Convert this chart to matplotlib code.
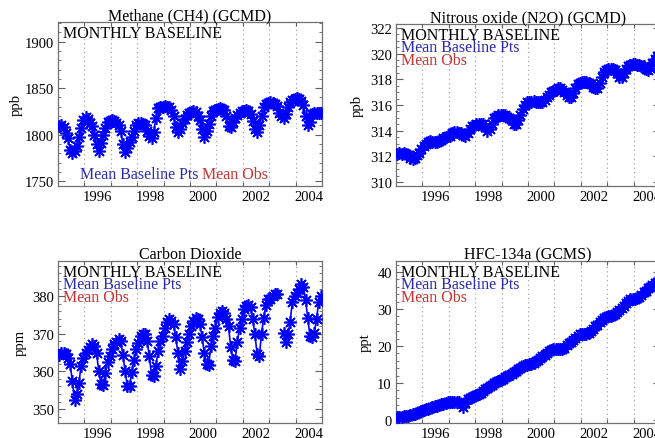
import numpy as np
import matplotlib
matplotlib.use('Agg')
import matplotlib.pyplot as plt
from matplotlib.ticker import MultipleLocator

plt.rcParams['font.family'] = ['Liberation Serif', 'DejaVu Serif']

# monthly means, first value is the month starting at 1994.5
first_month = 1994.5
n_months = 120

# Methane (ppb), one row per 12 months
ch4_ppb = [
    1809, 1811, 1808, 1802, 1796, 1784, 1780, 1783, 1788, 1798, 1807, 1816,
    1819, 1817, 1813, 1809, 1800, 1790, 1783, 1791, 1800, 1807, 1814, 1815,
    1816, 1815, 1813, 1811, 1804, 1790, 1782, 1786, 1792, 1798, 1804, 1810,
    1813, 1813, 1812, 1810, 1804, 1799, 1797, 1803, 1818, 1829, 1830, 1830,
    1831, 1830, 1830, 1827, 1820, 1808, 1803, 1806, 1813, 1817, 1821, 1823,
    1824, 1825, 1824, 1820, 1816, 1806, 1798, 1804, 1812, 1820, 1825, 1827,
    1828, 1829, 1828, 1827, 1820, 1809, 1808, 1814, 1818, 1821, 1823, 1825,
    1826, 1827, 1825, 1822, 1815, 1806, 1803, 1811, 1820, 1830, 1833, 1834,
    1835, 1834, 1833, 1831, 1823, 1820, 1818, 1822, 1830, 1835, 1837, 1838,
    1839, 1838, 1836, 1832, 1820, 1810, 1814, 1822, 1823, 1823, 1823, 1823,
]

# Nitrous oxide (ppb)
n2o_ppb = [
    312.2, 312.3, 312.2, 312.3, 312.2, 312.1, 311.9, 311.8, 311.9, 312.1, 312.3, 312.6,
    312.8, 313.0, 313.1, 313.2, 313.1, 313.1, 313.1, 313.2, 313.3, 313.4, 313.5, 313.6,
    313.6, 313.8, 313.9, 313.9, 313.8, 313.8, 313.7, 313.6, 313.8, 314.1, 314.4, 314.4,
    314.5, 314.5, 314.5, 314.5, 314.3, 314.0, 314.1, 314.5, 315.0, 315.1, 315.2, 315.2,
    315.2, 315.2, 315.1, 315.0, 314.8, 314.5, 314.5, 314.8, 315.2, 315.7, 316.0, 316.2,
    316.2, 316.2, 316.3, 316.2, 316.2, 316.2, 316.2, 316.4, 316.6, 316.8, 317.0, 317.1,
    317.2, 317.3, 317.3, 317.2, 317.0, 316.8, 316.6, 316.6, 316.9, 317.3, 317.6, 317.7,
    317.8, 317.8, 317.8, 317.7, 317.6, 317.4, 317.3, 317.3, 317.7, 318.2, 318.6, 318.7,
    318.8, 318.8, 318.8, 318.7, 318.5, 318.2, 318.2, 318.5, 318.8, 319.0, 319.1, 319.2,
    319.2, 319.1, 319.1, 319.0, 319.0, 318.8, 318.7, 318.9, 319.3, 319.6, 319.8, 319.9,
]

# Carbon dioxide (ppm), nan = no data
co2_ppm = [
    364.3, 364.8, 364.9, 364.5, 363.5, 362.0, 357.5, 352.3, 354.0, 357.0, 361.5, 363.5,
    364.8, 365.8, 366.5, 367.2, 366.8, 365.0, 360.2, 356.6, 356.4, 359.7, 362.5, 364.1,
    366.0, 367.2, 367.8, 368.5, 368.0, 364.4, 360.0, 356.2, 356.0, 359.8, 363.0, 365.9,
    367.5, 369.5, 370.0, 370.0, 368.0, 364.1, 359.0, 358.8, 361.5, 365.5, 368.0, 369.5,
    371.5, 373.0, 373.9, 373.5, 372.5, 369.0, 365.0, 360.6, 362.8, 365.5, 367.7, 370.0,
    372.0, 373.5, 374.3, 374.0, 372.5, 369.0, 365.0, 362.0, 361.8, 366.8, 369.5, 371.6,
    374.5, 375.6, 376.0, 375.5, 374.0, 372.0, 366.5, 363.0, 362.8, 367.8, 371.5, 374.0,
    376.5, 377.3, 377.5, 377.0, 373.9, 369.9, 364.6, 364.0, 369.9, 374.3, 377.5, 379.2,
    379.2, 380.0, 380.5, 380.5, np.nan, np.nan, 370.3, 367.7, 370.0, 373.0, 378.5, 380.0,
    380.9, 382.0, 383.2, 382.5, 379.0, 374.3, 369.5, 369.0, 370.3, 373.9, 378.5, 380.0,
]

# HFC-134a (ppt)
hfc_ppt = [
    0.7, 0.8, 0.9, 1.0, 1.1, 1.2, 1.4, 1.5, 1.7, 1.9, 2.1, 2.4,
    2.7, 2.9, 3.1, 3.3, 3.5, 3.7, 3.9, 4.1, 4.3, 4.4, 4.6, 4.8,
    4.9, 5.0, 5.0, 4.9, 5.0, 4.3, 3.6, 4.5, 5.7, 6.0, 6.3, 6.5,
    6.7, 7.0, 7.4, 7.8, 8.3, 8.7, 9.1, 9.5, 9.9, 10.3, 10.6, 10.9,
    11.2, 11.6, 11.9, 12.2, 12.5, 12.9, 13.3, 13.7, 14.1, 14.5, 14.8, 15.0,
    15.1, 15.2, 15.5, 15.9, 16.3, 16.7, 17.2, 17.7, 18.2, 18.7, 19.0, 19.1,
    19.2, 19.2, 19.2, 19.3, 19.6, 20.2, 20.7, 21.2, 21.7, 22.3, 22.8, 23.2,
    23.2, 23.2, 23.3, 23.5, 24.0, 24.7, 25.3, 25.8, 26.4, 27.0, 27.5, 27.8,
    28.0, 28.1, 28.3, 28.6, 29.1, 29.7, 30.3, 30.9, 31.6, 32.2, 32.6, 32.8,
    32.8, 32.9, 33.3, 33.9, 34.5, 35.0, 35.6, 36.1, 36.6, 37.0, 37.4, 37.8,
]

label_years = [1996, 1998, 2000, 2002, 2004]
grid_years = [1995.5, 1996.5, 1997.5, 1998.5, 1999.5, 2000.5, 2001.5, 2002.5, 2003.5]

months = first_month + (np.arange(n_months) + 0.5) / 12

fig = plt.figure(figsize=(6.55, 4.39), dpi=100)


def panel(rect, title, unit, values, ylim, major, minor, ylab_x, legend_low=False):
    ax = fig.add_axes(rect)
    ax.plot(months, values, color='#0000ff', lw=1.2, marker=(8, 2, 0),
            ms=9, mew=1.2, zorder=3)
    ax.set_xlim(1994.5, 2004.5)
    ax.set_ylim(*ylim)

    # dotted year lines, labels centred between them
    ax.set_xticks(grid_years)
    ax.set_xticklabels([])
    ax.set_xticks(label_years, [str(y) for y in label_years], minor=True)
    ax.grid(axis='x', which='major', color='#9a9a9a', linestyle=(0, (1, 3)), lw=0.8)
    ax.tick_params(axis='x', which='minor', length=0, pad=3, labelsize=10.5)
    ax.tick_params(axis='x', which='major', length=3, direction='in',
                   top=True, bottom=True, color='#606060')

    ax.yaxis.set_major_locator(MultipleLocator(major))
    ax.yaxis.set_minor_locator(MultipleLocator(minor))
    ax.tick_params(axis='y', which='both', direction='in', left=True, right=True,
                   labelsize=10.5, pad=3, color='#606060')
    ax.tick_params(axis='y', which='major', length=5)
    ax.tick_params(axis='y', which='minor', length=2.5)
    for s in ax.spines.values():
        s.set_color('#707070')
        s.set_linewidth(0.9)

    ax.set_title(title, fontsize=11.5, pad=2)
    ax.set_ylabel(unit, fontsize=10.5)
    ax.yaxis.set_label_coords(ylab_x, 0.5)

    ax.annotate('MONTHLY BASELINE', xy=(0, 1), xycoords='axes fraction',
                xytext=(3.5, -2), textcoords='offset points', va='top',
                fontsize=11.5, color='black')
    if legend_low:
        ax.annotate('Mean Baseline Pts', xy=(0, 0), xycoords='axes fraction',
                    xytext=(16, 6), textcoords='offset points', va='baseline',
                    fontsize=11.5, color='#2a2ab0')
        ax.annotate('Mean Obs', xy=(0, 0), xycoords='axes fraction',
                    xytext=(104, 6), textcoords='offset points', va='baseline',
                    fontsize=11.5, color='#c83232')
    else:
        ax.annotate('Mean Baseline Pts', xy=(0, 1), xycoords='axes fraction',
                    xytext=(3.5, -11), textcoords='offset points', va='top',
                    fontsize=11.5, color='#2a2ab0')
        ax.annotate('Mean Obs', xy=(0, 1), xycoords='axes fraction',
                    xytext=(3.5, -20), textcoords='offset points', va='top',
                    fontsize=11.5, color='#c83232')
    return ax


w = 264 / 655
panel([58 / 655, 252 / 439, w, 164 / 439], 'Methane (CH4) (GCMD)', 'ppb',
      ch4_ppb, (1745, 1921), 50, 10, -0.133, legend_low=True)
panel([396 / 655, 252 / 439, w, 162 / 439], 'Nitrous oxide (N2O) (GCMD)', 'ppb',
      n2o_ppb, (309.7, 322.3), 2, 0.5, -0.121)
panel([58 / 655, 15 / 439, w, 162 / 439], 'Carbon Dioxide', 'ppm',
      co2_ppm, (346.3, 389.3), 10, 2, -0.117)
panel([396 / 655, 15 / 439, w, 162 / 439], 'HFC-134a (GCMS)', 'ppt',
      hfc_ppt, (-0.8, 43), 10, 2, -0.091)

fig.savefig('out.png', dpi=100)
